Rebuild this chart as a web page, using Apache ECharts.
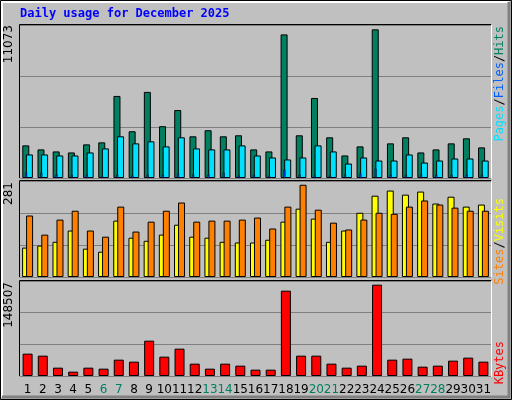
<!DOCTYPE html>
<html><head><meta charset="utf-8">
<script src="https://cdn.jsdelivr.net/npm/echarts@6/dist/echarts.min.js"></script>
<style>html,body{margin:0;padding:0;background:#c0c0c0}#c{width:512px;height:400px}</style>
</head><body><div id="c"></div>
<script>
const days = ['1','2','3','4','5','6','7','8','9','10','11','12','13','14','15','16','17','18','19','20','21','22','23','24','25','26','27','28','29','30','31'];
const weekends = ['6','7','13','14','20','21','27','28'];
const hits = [2361,2069,1923,1850,2434,2580,5939,3383,6231,3748,4917,3018,3456,3018,3091,2069,1923,10393,3091,5793,2945,1631,2288,10758,2507,2945,1850,2069,2507,2872,2215];
const files = [1704,1704,1631,1631,1850,2142,3018,2507,2653,2288,2945,2142,2069,2069,2361,1631,1485,1339,1485,2361,1923,1047,1485,1266,1266,1704,1120,1266,1412,1412,1266];
const pages = [390,390,240,240,240,150,240,170,240,240,320,240,240,390,170,240,170,600,240,170,170,240,320,680,240,240,240,240,240,240,240];
const visits = [86,92,103,136,83,74,165,115,106,124,153,118,115,103,101,101,109,162,200,171,103,136,188,238,253,241,250,215,235,206,212];
const sites = [180,124,168,194,136,118,206,133,162,194,218,162,165,165,168,174,142,206,270,197,159,139,168,188,185,206,224,212,203,194,194];
const kbytes = [34907,31781,13025,6773,13025,11462,25529,22403,55226,30218,42722,19277,11462,19277,16151,9899,9899,133376,31781,31781,19277,13025,16151,142754,25529,27092,14588,16151,23966,28655,22403];
const maxHits = 11073, maxSites = 281, maxKB = 148507;

const chart = echarts.init(document.getElementById('c'));
const grids = [
  {left:20, width:471, top:25, height:153},
  {left:20, width:471, top:181, height:96},
  {left:20, width:471, top:281, height:95}
];
function xa(i, show){
  return {type:'category', gridIndex:i, data:days, boundaryGap:true,
    axisLine:{show:false}, axisTick:{show:false},
    axisLabel: show ? {show:true, margin:8, fontFamily:'DejaVu Sans', fontSize:12, interval:0,
      formatter: v => weekends.includes(v) ? '{w|'+v+'}' : '{n|'+v+'}',
      rich:{w:{color:'#008060',fontSize:12,fontFamily:'DejaVu Sans'}, n:{color:'#000',fontSize:12,fontFamily:'DejaVu Sans'}}} : {show:false}};
}
function ya(i, max){
  return {type:'value', gridIndex:i, min:0, max:max, interval:max/3,
    axisLine:{show:false}, axisTick:{show:false}, axisLabel:{show:false},
    splitLine:{show:true, lineStyle:{color:'#808080', width:1}}};
}
const bs = {borderColor:'#000', borderWidth:1};
chart.setOption({
  animation:false,
  backgroundColor:'#c0c0c0',
  grid: grids.map(g => Object.assign({show:true, backgroundColor:'#c0c0c0', borderWidth:0}, g)),
  xAxis:[xa(0,false), xa(1,false), xa(2,true)],
  yAxis:[ya(0,maxHits), ya(1,maxSites), ya(2,maxKB)],
  series:[
    {type:'bar', name:'Hits', xAxisIndex:0, yAxisIndex:0, data:hits, barWidth:7, barGap:'-60%', itemStyle:Object.assign({color:'#008060'},bs), z:2},
    {type:'bar', name:'Pages', xAxisIndex:0, yAxisIndex:0, data:pages, barWidth:2, barGap:'-60%', itemStyle:{color:'#0040ff', borderColor:'#000', borderWidth:0.5}, z:4},
    {type:'bar', name:'Files', xAxisIndex:0, yAxisIndex:0, data:files, barWidth:7, barGap:'-60%', itemStyle:Object.assign({color:'#00e0ff'},bs), z:3},
    {type:'bar', name:'Visits', xAxisIndex:1, yAxisIndex:1, data:visits, barWidth:7, barGap:'-43%', itemStyle:Object.assign({color:'#ffff00'},bs)},
    {type:'bar', name:'Sites', xAxisIndex:1, yAxisIndex:1, data:sites, barWidth:7, barGap:'-43%', itemStyle:Object.assign({color:'#ff8000'},bs)},
    {type:'bar', name:'KBytes', xAxisIndex:2, yAxisIndex:2, data:kbytes, barWidth:10, itemStyle:Object.assign({color:'#ff0000'},bs)}
  ],
  graphic:[
    {type:'rect', shape:{x:0.5,y:0.5,width:511,height:399}, style:{fill:null, stroke:'#000', lineWidth:1}, silent:true},
    {type:'polyline', shape:{points:[[2,397],[2,2],[509,2]]}, style:{stroke:'#ffffff', lineWidth:2, fill:null}},
    {type:'polyline', shape:{points:[[509,2],[509,397],[2,397]]}, style:{stroke:'#808080', lineWidth:3, fill:null}},
    {type:'text', left:20, top:8, style:{text:'Daily usage for December 2025', fill:'#0000ff', font:'bold 12px "DejaVu Sans Mono"'}},
    // plot frames
    ...grids.map(g => ({type:'polyline', shape:{points:[[g.left-0.5,g.top+g.height+0.5],[g.left-0.5,g.top-0.5],[g.left+g.width+0.5,g.top-0.5]]}, style:{stroke:'#000', lineWidth:1, fill:null}})),
    ...grids.map(g => ({type:'polyline', shape:{points:[[g.left+g.width+0.5,g.top-0.5],[g.left+g.width+0.5,g.top+g.height+0.5],[g.left-0.5,g.top+g.height+0.5]]}, style:{stroke:'#fff', lineWidth:1, fill:null}})),
    // max labels
    {type:'text', x:9, y:25, rotation:Math.PI/2, style:{text:String(maxHits), fill:'#000', font:'12px "DejaVu Sans"', align:'right', verticalAlign:'middle'}},
    {type:'text', x:9, y:182, rotation:Math.PI/2, style:{text:String(maxSites), fill:'#000', font:'12px "DejaVu Sans"', align:'right', verticalAlign:'middle'}},
    {type:'text', x:9, y:282, rotation:Math.PI/2, style:{text:String(maxKB), fill:'#000', font:'12px "DejaVu Sans"', align:'right', verticalAlign:'middle'}},
    // right legends
    {type:'text', x:500, y:26, rotation:Math.PI/2, style:{text:'{p|Pages}{s|/}{f|Files}{s|/}{h|Hits}', align:'right', verticalAlign:'middle',
      rich:{p:{fill:'#00e0ff',font:'12px "DejaVu Sans Mono"'}, f:{fill:'#0060ff',font:'12px "DejaVu Sans Mono"'}, h:{fill:'#008060',font:'12px "DejaVu Sans Mono"'}, s:{fill:'#000',font:'12px "DejaVu Sans Mono"'}}}},
    {type:'text', x:500, y:198, rotation:Math.PI/2, style:{text:'{o|Sites}{s|/}{y|Visits}', align:'right', verticalAlign:'middle',
      rich:{o:{fill:'#ff8000',font:'12px "DejaVu Sans Mono"'}, y:{fill:'#ffff00',font:'12px "DejaVu Sans Mono"'}, s:{fill:'#000',font:'12px "DejaVu Sans Mono"'}}}},
    {type:'text', x:500, y:341, rotation:Math.PI/2, style:{text:'KBytes', fill:'#ff0000', font:'12px "DejaVu Sans Mono"', align:'right', verticalAlign:'middle'}}
  ]
});
</script></body></html>
